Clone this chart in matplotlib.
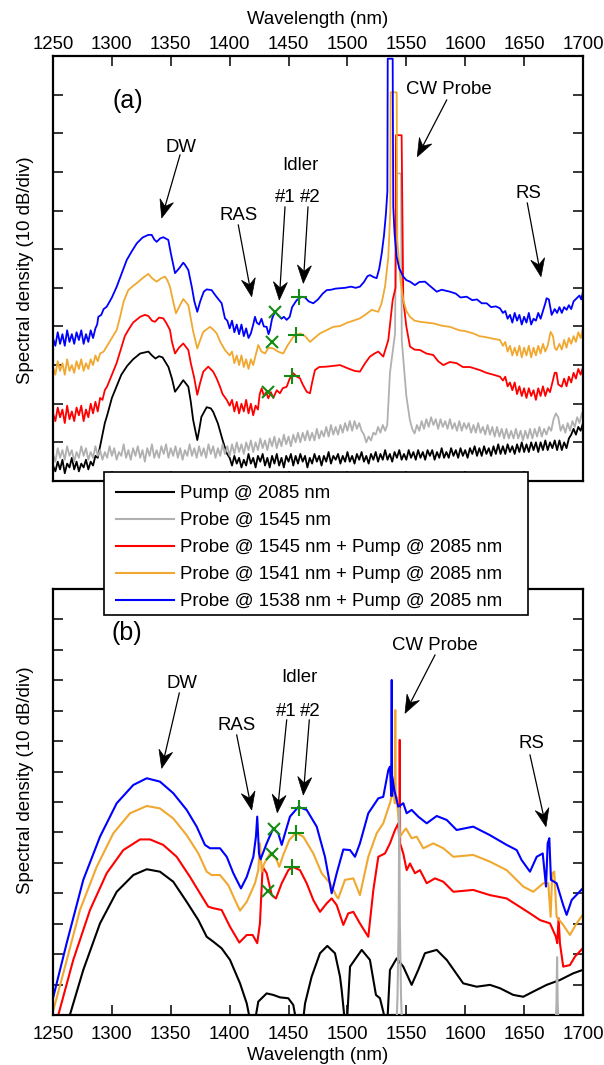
import numpy as np
import matplotlib
matplotlib.use("Agg")
import matplotlib.pyplot as plt
from matplotlib.patches import Rectangle, Polygon
from matplotlib.lines import Line2D

plt.rcParams['font.family'] = ['Liberation Sans', 'DejaVu Sans']
plt.rcParams['font.size'] = 13.4

# ---------------- data (wavelength nm, level dB, 10 dB/div) ----------------
ticks_wl = [1250, 1300, 1350, 1400, 1450, 1500, 1550, 1600, 1650, 1700]

labels = ["Pump @ 2085 nm", "Probe @ 1545 nm",
          "Probe @ 1545 nm + Pump @ 2085 nm",
          "Probe @ 1541 nm + Pump @ 2085 nm",
          "Probe @ 1538 nm + Pump @ 2085 nm"]
colors = ["black", "#b0b0b0", "#ff0000", "#f0a830", "#0000ff"]

# panel (a): measured spectra
pump_a = [(1250, 4.0), (1252, 2.5), (1254, 5.0), (1256, 3.0), (1258, 5.5), (1260, 2.0), (1262, 4.5),
          (1264, 3.5), (1266, 6.0), (1268, 3.0), (1270, 5.0), (1272, 2.5), (1274, 4.5), (1276, 3.5),
          (1278, 5.5), (1280, 3.0), (1282, 5.0), (1284, 4.0), (1286, 6.5), (1288, 6.0), (1290, 9.0),
          (1292, 12.0), (1294, 15.0), (1296, 17.0), (1300, 21.5), (1304, 24.5), (1308, 27.5),
          (1313, 29.8), (1318, 31.5), (1324, 33.0), (1331, 33.5), (1334, 32.5), (1337, 31.7),
          (1340, 32.3), (1343, 32.0), (1346, 30.5), (1348, 29.5), (1351, 26.5), (1353.6, 23.1),
          (1357, 24.5), (1360.6, 26.1), (1364.9, 24.4), (1367, 20.5), (1369, 15.8), (1372.5, 10.6),
          (1374, 13.0), (1376, 16.6), (1380.5, 19.1), (1384, 18.8), (1386, 17.9), (1390, 14.9),
          (1394, 10.6), (1397.5, 7.2), (1400, 6.0), (1402, 4.0), (1404, 6.5), (1406, 4.5), (1408, 6.0),
          (1410, 3.5), (1412, 5.5), (1414, 4.0), (1416, 7.0), (1418, 4.5), (1420, 6.0), (1422, 3.5),
          (1424, 6.5), (1426, 5.0), (1428, 7.0), (1430, 4.0), (1432, 6.0), (1434, 3.5), (1436, 6.5),
          (1438, 4.5), (1440, 7.0), (1442, 4.0), (1444, 6.0), (1446, 3.5), (1448, 6.5), (1450, 5.0),
          (1452, 7.0), (1454, 4.0), (1456, 6.5), (1458, 4.5), (1460, 7.0), (1462, 5.0), (1464, 6.5),
          (1466, 3.5), (1468, 6.0), (1470, 4.5), (1472, 7.0), (1474, 5.0), (1476, 6.5), (1478, 4.0),
          (1480, 6.5), (1482, 5.0), (1484, 7.5), (1486, 4.5), (1488, 6.5), (1490, 5.5), (1492, 7.0),
          (1494, 4.5), (1496, 6.5), (1498, 5.0), (1500, 7.5), (1502, 5.0), (1504, 6.5), (1506, 4.5),
          (1508, 7.0), (1510, 5.5), (1512, 7.5), (1514, 5.0), (1516, 6.5), (1518, 4.5), (1520, 7.0),
          (1522, 5.5), (1524, 7.5), (1526, 5.0), (1528, 7.0), (1530, 5.5), (1532, 8.0), (1534, 5.5),
          (1536, 7.0), (1538, 5.0), (1540, 7.5), (1542, 6.0), (1544, 8.0), (1546, 5.5), (1548, 7.0),
          (1550, 5.5), (1552, 8.0), (1554, 6.0), (1556, 7.5), (1558, 5.5), (1560, 8.0), (1562, 6.0),
          (1564, 7.5), (1566, 5.5), (1568, 8.0), (1570, 6.5), (1572, 8.0), (1574, 5.5), (1576, 7.5),
          (1578, 6.0), (1580, 8.5), (1582, 6.0), (1584, 7.5), (1586, 6.0), (1588, 8.5), (1590, 6.5),
          (1592, 8.0), (1594, 6.0), (1596, 8.5), (1598, 6.5), (1600, 8.0), (1602, 6.0), (1604, 8.5),
          (1606, 7.0), (1608, 9.0), (1610, 6.5), (1612, 8.5), (1614, 6.5), (1616, 9.0), (1618, 7.0),
          (1620, 8.5), (1622, 6.5), (1624, 9.0), (1626, 7.0), (1628, 9.5), (1630, 7.0), (1632, 9.0),
          (1634, 7.0), (1636, 9.5), (1638, 7.5), (1640, 9.0), (1642, 7.0), (1644, 9.5), (1646, 7.5),
          (1648, 10.0), (1650, 7.5), (1652, 9.5), (1654, 7.5), (1656, 10.0), (1658, 8.0), (1660, 10.0),
          (1662, 7.5), (1664, 10.0), (1666, 8.0), (1668, 10.5), (1670, 8.0), (1672, 10.0), (1674, 8.5),
          (1676, 10.5), (1678, 8.0), (1680, 10.5), (1682, 8.0), (1684, 10.0), (1686, 8.5), (1688, 11.0),
          (1690, 12.0), (1692, 13.5), (1694, 12.0), (1696, 14.0), (1698, 13.0), (1700, 15.0)]

probe_a = [(1250, 7.0), (1252, 5.0), (1254, 8.5), (1256, 6.0), (1258, 8.0), (1260, 5.5), (1262, 9.0),
           (1264, 6.5), (1266, 8.0), (1268, 5.0), (1270, 7.5), (1272, 6.0), (1274, 9.0), (1276, 6.5),
           (1278, 8.5), (1280, 5.5), (1282, 7.5), (1284, 6.0), (1286, 9.0), (1288, 6.5), (1290, 8.0),
           (1292, 5.5), (1294, 7.5), (1296, 6.0), (1298, 9.0), (1300, 6.5), (1302, 8.5), (1304, 5.5),
           (1306, 7.5), (1308, 6.5), (1310, 9.5), (1312, 6.0), (1314, 8.0), (1316, 5.5), (1318, 8.5),
           (1320, 6.5), (1322, 9.0), (1324, 6.0), (1326, 8.0), (1328, 5.0), (1330, 8.5), (1332, 6.5),
           (1334, 9.5), (1336, 6.0), (1338, 8.0), (1340, 6.0), (1342, 9.0), (1344, 7.0), (1346, 9.5),
           (1348, 6.0), (1350, 8.5), (1352, 6.5), (1354, 9.0), (1356, 6.0), (1358, 8.5), (1360, 5.5),
           (1362, 8.0), (1364, 6.5), (1366, 9.5), (1368, 6.5), (1370, 8.5), (1372, 6.0), (1374, 9.0),
           (1376, 6.5), (1378, 8.5), (1380, 6.0), (1382, 9.5), (1384, 7.0), (1386, 9.0), (1388, 6.0),
           (1390, 8.5), (1392, 6.5), (1394, 9.5), (1396, 7.0), (1398, 9.0), (1400, 6.5), (1402, 9.5),
           (1404, 7.0), (1406, 10.0), (1408, 7.5), (1410, 9.5), (1412, 7.0), (1414, 10.0), (1416, 8.0),
           (1418, 10.5), (1420, 7.5), (1422, 10.0), (1424, 8.0), (1426, 11.0), (1428, 8.5), (1430, 10.5),
           (1432, 8.0), (1434, 11.0), (1436, 9.0), (1438, 11.5), (1440, 8.5), (1442, 11.0), (1444, 9.0),
           (1446, 12.0), (1448, 9.5), (1450, 11.5), (1452, 9.0), (1454, 12.0), (1456, 10.0), (1458, 12.5),
           (1460, 10.0), (1462, 12.5), (1464, 10.5), (1466, 13.0), (1468, 10.5), (1470, 12.5), (1472, 10.5),
           (1474, 13.5), (1476, 11.0), (1478, 13.0), (1480, 11.5), (1482, 14.0), (1484, 11.5), (1486, 14.5),
           (1488, 12.0), (1490, 14.0), (1492, 12.0), (1494, 14.5), (1496, 12.5), (1498, 15.0), (1500, 13.0),
           (1502, 15.5), (1504, 13.0), (1506, 15.5), (1508, 13.5), (1510, 15.0), (1512, 13.0), (1514, 12.0),
           (1516, 10.0), (1518, 11.5), (1520, 10.5), (1522, 12.5), (1524, 12.0), (1526, 14.0), (1528, 12.5),
           (1530, 14.5), (1532, 13.0), (1533.8, 14.5), (1536.1, 28.0), (1540.4, 38.2), (1541.6, 79.6),
           (1545.5, 79.6), (1546.1, 36.5), (1550, 22.0), (1553, 15.8), (1555, 13.5), (1557, 12.3),
           (1559, 14.5), (1561, 13.0), (1563, 15.5), (1565, 13.5), (1567, 16.0), (1569, 14.0), (1571, 16.5),
           (1573, 14.5), (1575, 16.0), (1577, 13.5), (1579, 16.0), (1581, 14.0), (1583, 15.5), (1585, 13.5),
           (1587, 16.0), (1589, 13.5), (1591, 15.0), (1593, 13.0), (1595, 15.5), (1597, 13.0), (1599, 15.0),
           (1601, 13.5), (1603, 15.0), (1605, 12.5), (1607, 14.5), (1609, 12.5), (1611, 15.0), (1613, 12.5),
           (1615, 14.0), (1617, 12.0), (1619, 14.5), (1621, 12.0), (1623, 14.0), (1625, 11.5), (1627, 14.0),
           (1629, 11.5), (1631, 13.5), (1633, 11.0), (1635, 13.5), (1637, 11.0), (1639, 13.0), (1641, 11.0),
           (1643, 13.5), (1645, 11.0), (1647, 13.0), (1649, 10.5), (1651, 13.0), (1653, 11.0), (1655, 13.5),
           (1657, 11.0), (1659, 13.5), (1661, 11.5), (1663, 14.0), (1665, 11.5), (1667, 13.5), (1669, 12.0),
           (1671, 14.0), (1673, 13.0), (1675, 16.0), (1677, 17.5), (1679, 16.5), (1681, 13.0), (1683, 14.5),
           (1685, 12.5), (1687, 15.0), (1689, 13.0), (1691, 15.5), (1693, 14.0), (1695, 16.5), (1697, 15.0),
           (1699, 17.5), (1700, 18.0)]

red_a = [(1250, 17.5), (1252, 15.5), (1254, 19.0), (1256, 16.5), (1258, 18.5), (1260, 15.0), (1262, 19.5),
         (1264, 16.0), (1266, 18.0), (1268, 15.5), (1270, 19.0), (1272, 17.0), (1274, 19.5), (1276, 15.5),
         (1278, 18.5), (1280, 16.5), (1282, 20.0), (1284, 17.5), (1286, 20.5), (1288, 18.0), (1290, 21.5),
         (1292, 21.0), (1294, 23.5), (1296, 24.5), (1300, 27.5), (1304, 30.5), (1308, 34.5), (1311, 37.5),
         (1314, 39.1), (1318, 41.0), (1324, 42.5), (1328, 43.0), (1331, 42.7), (1334, 41.5), (1336.6, 41.2),
         (1340, 42.3), (1343.6, 42.1), (1346, 41.0), (1349.3, 39.1), (1351, 36.0), (1353.6, 33.0),
         (1357, 34.5), (1360.6, 35.6), (1364.9, 33.9), (1367, 30.5), (1369.7, 27.0), (1372.5, 22.3),
         (1375, 25.5), (1377.6, 28.3), (1381.8, 29.6), (1386, 28.3), (1389, 26.5), (1391.8, 24.4),
         (1394, 22.5), (1397.5, 21.0), (1400, 19.5), (1402, 21.0), (1404, 18.0), (1406, 20.5), (1408, 17.5),
         (1410, 20.0), (1412, 18.0), (1414, 21.0), (1416, 17.5), (1418, 20.0), (1420, 17.0), (1422, 19.5),
         (1424, 18.5), (1425.5, 22.5), (1427.2, 24.0), (1429, 22.0), (1431, 23.0), (1432.8, 21.4),
         (1435, 23.0), (1437, 21.5), (1440, 23.5), (1442.7, 22.7), (1445, 24.0), (1448.4, 24.4),
         (1451, 26.5), (1454, 27.9), (1457, 27.0), (1459.7, 26.6), (1462, 25.0), (1465.4, 23.1),
         (1468.2, 22.7), (1470, 25.5), (1472.4, 28.7), (1476, 29.5), (1482.4, 29.6), (1488, 29.8),
         (1493.7, 30.0), (1500, 29.2), (1506, 28.5), (1510.6, 28.3), (1515, 30.5), (1519.1, 32.2),
         (1523, 33.0), (1526.2, 33.5), (1530.4, 32.2), (1534.7, 36.5), (1538.4, 46.8), (1540.8, 50.0),
         (1541.2, 89.5), (1546, 89.5), (1547.4, 46.8), (1550, 40.0), (1553.1, 34.8), (1557, 34.0),
         (1561.6, 33.9), (1567, 33.0), (1572.9, 32.6), (1577, 31.0), (1581.4, 30.0), (1587, 30.8),
         (1592.7, 30.5), (1598, 29.5), (1604, 29.5), (1612.5, 28.7), (1618, 28.0), (1624, 27.5),
         (1629.5, 27.0), (1632, 26.0), (1634, 27.0), (1636, 24.5), (1638, 25.5), (1640, 23.5), (1642, 25.5),
         (1644, 22.5), (1646, 24.5), (1648, 22.0), (1650, 24.0), (1652, 21.5), (1654, 24.0), (1656, 22.0),
         (1658, 23.5), (1660, 21.0), (1662, 24.0), (1664, 22.0), (1666, 24.5), (1668, 22.0), (1670, 24.0),
         (1672, 23.0), (1674, 25.5), (1676, 28.0), (1677.5, 28.0), (1679, 25.0), (1681.9, 24.4),
         (1684, 26.5), (1686, 24.5), (1688, 27.0), (1690, 25.5), (1692, 28.0), (1694, 26.5), (1696, 29.0),
         (1698, 27.5), (1700, 29.5)]

orange_a = [(1250, 29.5), (1252, 27.5), (1254, 31.0), (1256, 28.5), (1258, 30.5), (1260, 27.5), (1262, 31.5),
            (1264, 28.5), (1266, 30.0), (1268, 28.0), (1270, 31.0), (1272, 29.0), (1274, 31.5), (1276, 28.5),
            (1278, 30.5), (1280, 29.0), (1282, 31.5), (1284, 30.0), (1286, 32.5), (1288, 31.0), (1290, 33.0),
            (1293, 33.5), (1295.6, 34.8), (1300, 37.0), (1304.1, 39.1), (1307, 42.5), (1310, 46.5),
            (1313.9, 49.4), (1318, 50.5), (1321.1, 51.2), (1326, 52.5), (1330.9, 53.6), (1334, 52.5),
            (1338, 51.6), (1342, 52.5), (1345.1, 52.9), (1347, 52.0), (1349.3, 50.3), (1352, 46.5),
            (1354.4, 43.4), (1357, 45.0), (1360.6, 47.1), (1364.9, 45.5), (1367, 42.0), (1369.1, 38.6),
            (1372.5, 34.3), (1375, 36.5), (1377.6, 38.6), (1383.3, 39.9), (1386, 39.2), (1389, 38.2),
            (1392, 36.0), (1396, 33.9), (1400, 32.5), (1402, 33.5), (1404, 30.5), (1406, 32.5), (1408, 30.0),
            (1410, 32.5), (1412, 29.5), (1414, 31.5), (1416, 29.0), (1418, 31.5), (1420, 30.0), (1422, 32.5),
            (1424.3, 35.2), (1427, 33.5), (1430, 33.0), (1433, 34.5), (1437, 34.3), (1441, 33.5),
            (1445.5, 33.0), (1449, 35.0), (1454, 37.3), (1459.7, 38.2), (1464, 37.5), (1468.2, 36.0),
            (1472, 37.0), (1476.7, 38.2), (1482, 39.0), (1488, 39.9), (1493.7, 40.1), (1500, 41.0),
            (1505, 41.5), (1510.6, 42.1), (1515, 43.0), (1520.6, 44.3), (1526.2, 43.8), (1529, 46.0),
            (1531.9, 50.3), (1534.7, 58.0), (1536.4, 70.0), (1536.7, 100.6), (1541.8, 100.6), (1542.3, 62.4),
            (1545, 52.0), (1547.4, 46.8), (1550, 44.0), (1553.1, 42.5), (1557, 41.5), (1561.6, 41.2),
            (1567, 41.0), (1572.9, 40.8), (1580, 40.2), (1587, 39.9), (1595, 39.0), (1600, 38.8),
            (1606.8, 38.2), (1612, 37.5), (1618, 37.2), (1624, 36.8), (1629.5, 36.5), (1632, 35.0),
            (1634, 36.0), (1636, 33.5), (1638, 35.0), (1640, 32.5), (1642, 34.5), (1644, 32.5), (1646, 35.0),
            (1648, 32.0), (1650, 34.5), (1652, 32.5), (1654, 35.0), (1656, 32.0), (1658, 34.5), (1660, 32.5),
            (1662, 35.0), (1664, 33.0), (1666, 35.5), (1668, 33.5), (1670, 35.0), (1672.5, 38.6),
            (1674.5, 37.5), (1676, 34.5), (1677.6, 33.9), (1680, 35.5), (1682, 34.0), (1684, 36.5),
            (1686, 34.5), (1688, 37.0), (1690, 35.5), (1692, 37.5), (1694, 36.0), (1696, 38.5), (1698, 37.0),
            (1700, 39.5)]

blue_a = [(1250, 37.0), (1252, 35.0), (1254, 38.5), (1256, 35.5), (1258, 38.0), (1260, 35.0), (1262, 39.0),
          (1264, 36.0), (1266, 38.0), (1268, 35.5), (1270, 38.5), (1272, 36.5), (1274, 39.0), (1276, 35.5),
          (1278, 38.0), (1280, 36.0), (1282, 39.0), (1284, 37.0), (1286, 39.5), (1287.5, 40.5),
          (1288.5, 42.5), (1291, 43.0), (1293, 44.5), (1295.6, 45.1), (1300, 47.5), (1304.1, 50.3),
          (1308, 53.5), (1312.6, 57.2), (1317, 59.5), (1321.1, 61.5), (1326, 63.0), (1330.9, 63.7),
          (1333.8, 63.7), (1336, 62.5), (1338, 61.9), (1341, 62.8), (1343.6, 63.1), (1347.9, 62.4),
          (1350, 59.0), (1353.6, 53.8), (1357, 55.0), (1360.6, 56.5), (1362, 56.0), (1364.9, 54.6),
          (1368, 50.0), (1370, 46.5), (1372.5, 43.8), (1375, 46.5), (1378, 49.0), (1380.5, 49.6),
          (1384.7, 49.4), (1388, 48.0), (1393.2, 46.0), (1396, 42.1), (1398, 41.5), (1400, 39.5),
          (1402, 41.5), (1404, 38.5), (1406, 40.5), (1408, 38.0), (1410, 40.5), (1412, 37.5), (1414, 39.5),
          (1416, 37.0), (1418, 38.2), (1420, 40.5), (1421.5, 42.5), (1423, 41.0), (1425, 40.5), (1427, 42.0),
          (1429, 40.0), (1431.4, 39.9), (1433, 38.0), (1434.2, 39.1), (1436, 42.0), (1438.5, 43.8),
          (1441, 43.0), (1444, 42.0), (1446, 42.5), (1448.4, 41.7), (1451, 42.5), (1453, 45.0),
          (1456.9, 46.8), (1461.1, 47.7), (1464, 47.5), (1467, 46.5), (1471, 46.0), (1475, 47.0),
          (1479, 48.5), (1482.4, 49.4), (1486, 49.5), (1490, 49.8), (1493.7, 49.9), (1498, 50.0),
          (1503, 50.3), (1507, 50.0), (1510.6, 50.3), (1514, 51.5), (1517, 53.0), (1519.1, 53.3),
          (1522, 52.8), (1524.8, 52.5), (1527, 55.0), (1529.1, 58.9), (1531, 63.5), (1532.7, 69.3),
          (1533.9, 75.0), (1534.2, 109.3), (1538.4, 109.3), (1538.9, 71.0), (1540, 64.0), (1541.8, 58.0),
          (1544, 55.0), (1547.4, 52.9), (1550, 52.0), (1553.1, 51.6), (1557.3, 50.7), (1561, 51.5),
          (1565.8, 51.6), (1570, 50.5), (1575.8, 49.0), (1580, 49.5), (1587, 49.0), (1592, 48.5),
          (1596, 47.5), (1601.2, 47.7), (1606, 46.8), (1610, 47.0), (1614, 46.0), (1618.2, 46.0),
          (1622, 45.0), (1626, 45.2), (1629.5, 44.7), (1632, 43.5), (1634, 44.0), (1636, 42.0), (1638, 43.0),
          (1640, 41.0), (1642, 43.5), (1644, 41.5), (1646, 43.0), (1648, 40.5), (1650, 42.5), (1652, 41.0),
          (1654, 43.5), (1656, 40.5), (1658, 42.0), (1660, 41.5), (1662, 43.5), (1664, 42.0), (1666, 44.0),
          (1668, 46.0), (1669.1, 47.3), (1671, 47.0), (1673.4, 43.0), (1676, 44.5), (1678, 43.5),
          (1680, 45.0), (1682, 43.5), (1684, 45.0), (1686.1, 44.3), (1688, 45.5), (1690, 44.5),
          (1692, 46.5), (1694.6, 47.3), (1697, 48.0), (1698.5, 47.0), (1700, 49.0)]

# panel (b): simulated spectra
pump_b = [(1262, -3), (1275.7, 14.8), (1289.9, 30.1), (1304.1, 40.5), (1318.2, 46.0), (1329.6, 47.9),
          (1340.8, 47.1), (1352.1, 43.8), (1363.5, 37.2), (1373.4, 31.2), (1380.5, 25.7), (1386.1, 24.1),
          (1393.2, 21.9), (1400.3, 18.1), (1408.8, 10.4), (1414.5, 3.8), (1418, -3), (1421, -3),
          (1424.3, 4.4), (1431.4, 7.1), (1437, 6.6), (1442.7, 5.8), (1449.8, 5.5), (1454, 3.3),
          (1457, -3), (1462, -3), (1464, 3.8), (1469.6, 12.6), (1476.7, 20.3), (1482.9, 22.7),
          (1489.4, 20.3), (1493.7, 12.6), (1495.1, 8.2), (1498, -3), (1499.5, -3), (1502.2, 15.9),
          (1512.1, 21.4), (1519.1, 18.1), (1524.2, 6.6), (1527.6, 5.5), (1530.4, 1.1), (1532.7, -3),
          (1533.8, -3), (1536.1, 14.8), (1541.8, 18.6), (1547.4, 15.9), (1554.5, 9.9), (1560.1, 14.8),
          (1565.8, 20.3), (1575.8, 21.4), (1584.3, 18.1), (1598.3, 10.4), (1609.7, 9.3), (1621, 9.9),
          (1629.5, 8.8), (1640.8, 6.6), (1649.3, 6.0), (1657.8, 7.7), (1669.1, 9.9), (1680.4, 11.5),
          (1691.7, 13.7), (1699.7, 14.8)]

probe_b = [(1250, -10), (1541, -10), (1542.5, 6), (1543.5, 30), (1544, 68), (1544.5, 30), (1545.5, 6),
           (1547, -10), (1676, -10), (1677.5, 4), (1678, 19), (1678.5, 4), (1680, -10), (1700, -10)]

red_b = [(1252, -5), (1254.5, 0), (1267.2, 18.1), (1281.4, 34.5), (1295.6, 46.6), (1309.7, 54.2),
         (1323.9, 57.7), (1332.4, 57.7), (1343.6, 55.9), (1355, 52.0), (1366.3, 45.4), (1374.8, 40.0),
         (1381.8, 35.6), (1386.1, 35.1), (1393.2, 34.5), (1400.3, 29.0), (1408.2, 23.8), (1414.5, 26.3),
         (1419.5, 26.3), (1423.4, 23.6), (1425.7, 30.1), (1428, 48.7), (1431.4, 46.6), (1435.7, 39.4),
         (1439.3, 38.3), (1444.2, 43.3), (1449.8, 47.6), (1453.5, 48.7), (1459.7, 47.6), (1465.4, 43.3),
         (1471, 37.8), (1476.7, 33.9), (1482.4, 36.7), (1486.6, 38.3), (1490.9, 36.1), (1496.5, 29.6),
         (1500.7, 33.4), (1505, 33.9), (1510.6, 30.1), (1517.7, 25.7), (1522, 41.1), (1526.2, 52.0),
         (1531.9, 53.1), (1536.1, 56.4), (1540.4, 60.8), (1543.2, 63.0), (1544.2, 56.0), (1544.4, 90.4),
         (1544.7, 56.4), (1547.4, 53.1), (1550.3, 47.6), (1553.1, 49.8), (1557.3, 46.6), (1561.6, 47.6),
         (1567.3, 43.3), (1574.3, 44.9), (1581.4, 43.8), (1589.9, 40.5), (1606.8, 41.1), (1621, 39.4),
         (1635.2, 38.3), (1655, 33.4), (1663.5, 31.2), (1672, 30.1), (1677, 25.7), (1678.1, 23.6),
         (1679.3, 31.8), (1680.4, 23.6), (1683.2, 15.9), (1688.9, 16.4), (1693.2, 19.2), (1699.7, 21.9)]

orange_b = [(1250.3, 1.6), (1258.7, 13.7), (1272.9, 34.5), (1287.1, 48.7), (1301.2, 59.7), (1315.4, 66.3),
            (1329.6, 68.7), (1340.8, 67.9), (1352.1, 64.6), (1363.5, 59.1), (1373.4, 53.1), (1380.5, 47.1),
            (1384.7, 46.0), (1391.8, 46.0), (1398.8, 42.7), (1404.5, 37.8), (1408.8, 34.3), (1414.5, 37.2),
            (1421.5, 43.3), (1424.3, 47.6), (1425.7, 56.4), (1427.2, 47.1), (1429.1, 49.6), (1434.2, 53.1),
            (1439.3, 51.5), (1442.1, 48.7), (1445.5, 52.6), (1450.6, 57.5), (1456.3, 59.9), (1462.5, 58.6),
            (1471, 53.1), (1478.1, 46.6), (1485.2, 43.3), (1490.9, 38.9), (1492.2, 38.3), (1497.9, 44.4),
            (1505, 44.9), (1510.6, 39.4), (1517.7, 52.0), (1524.8, 59.7), (1530.4, 63.0), (1536.1, 69.6),
            (1539.5, 75.0), (1540.2, 69.6), (1540.6, 100.2), (1541.0, 69.6), (1541.8, 71.7), (1544.6, 58.6),
            (1547.4, 60.2), (1549.7, 61.3), (1554.5, 58.1), (1558.8, 58.6), (1564.4, 54.8), (1572.9, 56.4),
            (1581.4, 54.8), (1589.9, 52.0), (1606.8, 52.6), (1621, 50.4), (1635.2, 47.6), (1649.3, 42.2),
            (1657.8, 40.5), (1666.3, 43.3), (1670.5, 43.3), (1672.5, 32.3), (1673.9, 46.6), (1675.6, 47.1),
            (1677.6, 32.3), (1683.2, 29.6), (1688.9, 26.3), (1694.6, 30.1), (1699.7, 32.9)]

blue_b = [(1250.3, 6.0), (1261.6, 23.6), (1275.7, 44.4), (1289.9, 58.6), (1304.1, 69.6), (1318.2, 75.6),
          (1329.6, 77.8), (1340.8, 76.7), (1352.1, 72.9), (1363.5, 67.4), (1372, 61.9), (1379, 55.9),
          (1383.3, 54.8), (1391.8, 54.8), (1397.5, 52.0), (1403.1, 46.6), (1409.6, 41.6), (1414.5, 45.4),
          (1420.1, 52.0), (1422.3, 58.6), (1423.4, 65.2), (1424.9, 53.1), (1426.3, 51.2), (1431.4, 56.4),
          (1437, 61.3), (1441.3, 59.7), (1444.2, 55.9), (1447, 59.7), (1451.2, 65.2), (1458.3, 68.4),
          (1465.4, 67.4), (1473.9, 61.9), (1480.9, 52.0), (1486.6, 40.0), (1490.9, 46.6), (1496.5, 54.4),
          (1502.2, 54.2), (1506.4, 52.0), (1510.6, 56.4), (1517.7, 66.3), (1526.2, 71.2), (1530.4, 71.7),
          (1534.7, 80.5), (1536.1, 81.6), (1537.2, 72.0), (1537.6, 110.1), (1537.9, 72.0), (1538.1, 78.3),
          (1539.8, 73.9), (1543.2, 68.4), (1547.4, 69.6), (1550.3, 66.3), (1554.5, 67.4), (1560.1, 65.2),
          (1567.3, 63.0), (1575.8, 65.4), (1584.3, 64.1), (1592.7, 60.8), (1606.8, 61.9), (1621, 59.1),
          (1635.2, 55.9), (1643.7, 54.2), (1647.9, 50.9), (1655, 47.1), (1660.7, 52.0), (1665.8, 53.1),
          (1668.6, 42.2), (1670, 56.4), (1671.4, 58.1), (1672.8, 44.4), (1677.6, 43.3), (1683.2, 36.1),
          (1686.1, 32.9), (1690.4, 37.8), (1699.7, 41.6)]

# idler positions (x = idler #1, + = idler #2), order red, orange, blue
idler1_a = [(1432.3, 23.0), (1436.2, 35.9), (1438.5, 43.8)]
idler2_a = [(1453.2, 27.3), (1456.3, 37.8), (1459.1, 47.5)]
idler1_b = [(1432.5, 40.7), (1436.2, 52.8), (1437.9, 61.0)]
idler2_b = [(1453.2, 48.7), (1456.3, 59.7), (1459.1, 67.9)]

# ---------------- layout ----------------
W, H = 604, 1065


def fp(x, y):
    # pixel position (from top-left) -> figure fraction
    return (x / W, 1 - y / H)


def arrow(x0, y0, x1, y1, hl=18, hw=7, notch=6):
    # thin shaft + concave filled head, all in pixels from top-left
    d = np.array([x1 - x0, y1 - y0], float)
    d /= np.hypot(*d)
    n = np.array([-d[1], d[0]])
    tip = np.array([x1, y1])
    back = tip - d * hl
    pts = [tip, back + n * hw, tip - d * (hl - notch), back - n * hw]
    neck = tip - d * (hl - notch)
    fig.add_artist(Line2D([x0 / W, neck[0] / W], [1 - y0 / H, 1 - neck[1] / H],
                          transform=fig.transFigure, color='black', lw=0.9, zorder=8))
    fig.add_artist(Polygon([fp(*p) for p in pts], closed=True, transform=fig.transFigure,
                           facecolor='black', edgecolor='black', lw=0.5, zorder=8))


fig = plt.figure(figsize=(W / 100, H / 100), dpi=100)
ax_a = fig.add_axes([53 / W, 1 - 481 / H, 530 / W, 425 / H])
ax_b = fig.add_axes([53 / W, 1 - 1015 / H, 530 / W, 426 / H])

series_a = [pump_a, probe_a, red_a, orange_a, blue_a]
series_b = [pump_b, probe_b, red_b, orange_b, blue_b]

for s, c in zip(series_a, colors):
    wl, lev = np.array(s).T
    ax_a.plot(wl, lev, color=c, lw=1.3)

for i, (s, c) in enumerate(zip(series_b, colors)):
    wl, lev = np.array(s).T
    ax_b.plot(wl, lev, color=c, lw=1.5, zorder=4 if i == 1 else 2)

green = "#148c14"
for ax, i1, i2 in [(ax_a, idler1_a, idler2_a), (ax_b, idler1_b, idler2_b)]:
    x1, y1 = np.array(i1).T
    x2, y2 = np.array(i2).T
    ax.plot(x1, y1, ls='none', marker='x', ms=8, mew=1.5, color=green, zorder=6)
    ax.plot(x2, y2, ls='none', marker='+', ms=12, mew=1.5, color=green, zorder=6)

for ax, top in [(ax_a, 110), (ax_b, 140)]:
    ax.set_xlim(1250, 1700)
    ax.set_ylim(0, top)
    ax.set_xticks(ticks_wl)
    ax.set_yticks(np.arange(0, top + 1, 10))
    ax.tick_params(direction='in', length=7.5, width=1.1, top=True, bottom=True,
                   left=True, right=True, labelleft=False)
    for sp in ax.spines.values():
        sp.set_linewidth(1.6)

ax_a.tick_params(axis='x', labelbottom=False, labeltop=True, pad=2.2)
ax_a.xaxis.set_label_position('top')
ax_a.set_xlabel('Wavelength (nm)', labelpad=8.8)
ax_b.tick_params(axis='x', pad=7.7)
ax_b.set_xlabel('Wavelength (nm)', labelpad=3.2)

fig.text(*fp(25, 270), 'Spectral density (10 dB/div)', rotation=90, ha='center', va='center')
fig.text(*fp(25, 780), 'Spectral density (10 dB/div)', rotation=90, ha='center', va='center')

# annotations: text (x, y) and arrow (start -> tip) in pixels
texts = [("(a)", 128, 101, 18), ("DW", 181, 147, 13.4), ("RAS", 239, 216, 13.4),
         ("Idler", 300, 165, 13.4), ("#1", 285, 198, 13.4), ("#2", 310, 198, 13.4),
         ("CW Probe", 449, 89, 13.4), ("RS", 528, 194, 13.4),
         ("(b)", 127, 633, 18), ("DW", 182, 683, 13.4), ("RAS", 237, 725, 13.4),
         ("Idler", 299, 678, 13.4), ("#1", 286, 712, 13.4), ("#2", 310, 712, 13.4),
         ("CW Probe", 435, 646, 13.4), ("RS", 531, 744, 13.4)]
arrows = [(180, 155, 161.7, 218), (238.3, 225, 251.7, 296.7), (285, 207, 279.3, 300),
          (308, 207, 303.3, 283.3), (446.7, 100, 417.3, 156.7), (527.3, 203, 541, 276.7),
          (179.3, 693, 161.7, 768.3), (236.7, 735, 251.7, 810), (286.7, 720, 277.3, 812.7),
          (309.3, 720, 303.3, 795), (435, 655, 405, 713.3), (530, 755, 546, 826.7)]

for t, x, y, fs in texts:
    fig.text(*fp(x, y), t, ha='center', va='center', fontsize=fs, zorder=7)
for a in arrows:
    arrow(*a)

# legend with its frame
fig.patches.append(Rectangle(fp(103.7, 615), (527.7 - 103.7) / W, (615 - 472.3) / H,
                             transform=fig.transFigure, facecolor='white',
                             edgecolor='black', lw=1.2, zorder=4))
handles = [Line2D([], [], color=c, lw=1.5) for c in colors]
fig.legend(handles, labels, loc='upper left', bbox_to_anchor=fp(116, 485),
           bbox_transform=fig.transFigure, frameon=False, borderpad=0,
           borderaxespad=0, handlelength=3.1, handletextpad=0.35,
           labelspacing=0.54, fontsize=13.4).set_zorder(5)

fig.savefig('out.png', dpi=100)
